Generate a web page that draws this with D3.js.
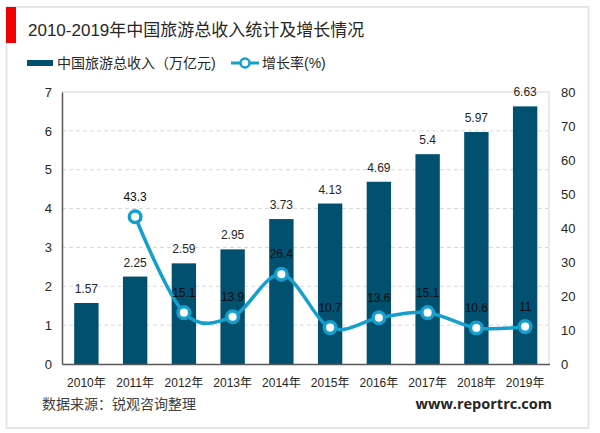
<!DOCTYPE html>
<html>
<head>
    <meta charset="utf-8">
    <script src="https://d3js.org/d3.v7.min.js"></script>
    <style>
        html, body { margin: 0; padding: 0; background: #fff; }
        text { font-family: "Liberation Sans", "Noto Sans CJK SC", sans-serif; fill: #262626; }
        .axis path { stroke: #595959; stroke-width: 1.5; }
        .axis line { display: none; }
        .axis text { font-size: 13px; font-family: "Liberation Sans", "Noto Sans CJK SC", sans-serif; fill: #262626; }
        .axis.bottom text { font-size: 12px; }
    </style>
</head>
<body>
<div id="chart"></div>
<script>
const years = ["2010年", "2011年", "2012年", "2013年", "2014年", "2015年", "2016年", "2017年", "2018年", "2019年"];
const revenue = [1.57, 2.25, 2.59, 2.95, 3.73, 4.13, 4.69, 5.4, 5.97, 6.63];
const growthYears = years.slice(1);
const growth = [43.3, 15.1, 13.9, 26.4, 10.7, 13.6, 15.1, 10.6, 11];
const revenueTicks = [0, 1, 2, 3, 4, 5, 6, 7];
const growthTicks = [0, 10, 20, 30, 40, 50, 60, 70, 80];

const barColor = "#01506f";
const lineColor = "#159fcd";

const svg = d3.select("#chart").append("svg")
    .attr("width", 600)
    .attr("height", 433)
    .style("display", "block");

// 外框和标题
svg.append("rect").attr("x", 6.5).attr("y", 7).attr("width", 582).attr("height", 421)
    .attr("fill", "#fff").attr("stroke", "#e6e6e6").attr("stroke-width", 2);
svg.append("rect").attr("x", 6).attr("y", 7).attr("width", 10).attr("height", 36).attr("fill", "#f00000");
svg.append("text").attr("x", 28).attr("y", 36).attr("font-size", 17)
    .text("2010-2019年中国旅游总收入统计及增长情况");

// 比例尺
const x = d3.scaleBand().domain(years).range([62, 549.5]).paddingInner(0.5).paddingOuter(0.25);
const yLeft = d3.scaleLinear().domain([0, 7]).range([364, 92]);
const yRight = d3.scaleLinear().domain([0, 80]).range([364, 92]);
const cx = d => x(d) + x.bandwidth() / 2;

// 网格线
svg.append("g").selectAll("line")
    .data(revenueTicks.filter(d => d > 0 && d < 7))
    .enter().append("line")
    .attr("x1", 62).attr("x2", 549)
    .attr("y1", d => yLeft(d)).attr("y2", d => yLeft(d))
    .attr("stroke", "#d9d9d9").attr("stroke-dasharray", "4,3");
svg.append("path")
    .attr("d", d3.line()([[62, yLeft(7)], [549, yLeft(7)], [549, yLeft(0)]]))
    .attr("fill", "none").attr("stroke", "#e3e3e3").attr("stroke-width", 1.5);

// 柱子
svg.append("g").selectAll("rect")
    .data(revenue)
    .enter().append("rect")
    .attr("x", (d, i) => x(years[i]))
    .attr("y", d => yLeft(d))
    .attr("width", x.bandwidth())
    .attr("height", d => yLeft(0) - yLeft(d))
    .attr("fill", barColor);

// 坐标轴
svg.append("g").attr("class", "axis").attr("transform", "translate(62,0)")
    .call(d3.axisLeft(yLeft).tickValues(revenueTicks).tickFormat(d3.format("d")).tickSize(0).tickPadding(10));
const axisRight = svg.append("g").attr("class", "axis").attr("transform", "translate(549,0)")
    .call(d3.axisRight(yRight).tickValues(growthTicks).tickSize(0).tickPadding(12));
axisRight.select("path").remove();
svg.append("g").attr("class", "axis bottom").attr("transform", "translate(0,364)")
    .call(d3.axisBottom(x).tickSize(0).tickPadding(14));

// 折线
const line = d3.line()
    .x((d, i) => cx(growthYears[i]))
    .y(d => yRight(d))
    .curve(d3.curveCatmullRom.alpha(0));
svg.append("path").datum(growth)
    .attr("d", line)
    .attr("fill", "none")
    .attr("stroke", lineColor)
    .attr("stroke-width", 3.5);
svg.append("g").selectAll("circle")
    .data(growth)
    .enter().append("circle")
    .attr("cx", (d, i) => cx(growthYears[i]))
    .attr("cy", d => yRight(d))
    .attr("r", 5.8)
    .attr("fill", "#fff")
    .attr("stroke", lineColor)
    .attr("stroke-width", 3.5);

// 数据标签
svg.append("g").selectAll("text")
    .data(revenue)
    .enter().append("text")
    .attr("x", (d, i) => cx(years[i]))
    .attr("y", d => yLeft(d) - 10)
    .attr("text-anchor", "middle")
    .attr("font-size", 12)
    .text(d => d);
svg.append("g").selectAll("text")
    .data(growth)
    .enter().append("text")
    .attr("x", (d, i) => cx(growthYears[i]))
    .attr("y", d => yRight(d) - 16)
    .attr("text-anchor", "middle")
    .attr("font-size", 12)
    .style("fill", "#0d0d0d")
    .text(d => d);

// 图例
svg.append("rect").attr("x", 27).attr("y", 60).attr("width", 26).attr("height", 6).attr("fill", barColor);
svg.append("text").attr("x", 57).attr("y", 67.5).attr("font-size", 14).text("中国旅游总收入（万亿元)");
svg.append("line").attr("x1", 231).attr("x2", 259).attr("y1", 63).attr("y2", 63)
    .attr("stroke", lineColor).attr("stroke-width", 3);
svg.append("circle").attr("cx", 245).attr("cy", 63).attr("r", 4.5)
    .attr("fill", "#fff").attr("stroke", lineColor).attr("stroke-width", 2.5);
svg.append("text").attr("x", 262).attr("y", 67.5).attr("font-size", 14).text("增长率(%)");

// 来源
svg.append("text").attr("x", 42).attr("y", 409).attr("font-size", 14).style("fill", "#404040").text("数据来源：锐观咨询整理");
svg.append("text").attr("x", 552).attr("y", 409).attr("text-anchor", "end")
    .attr("font-size", 14.5).attr("font-weight", "bold").style("font-family", "'Open Sans', 'DejaVu Sans', sans-serif")
    .text("www.reportrc.com");
</script>
</body>
</html>
